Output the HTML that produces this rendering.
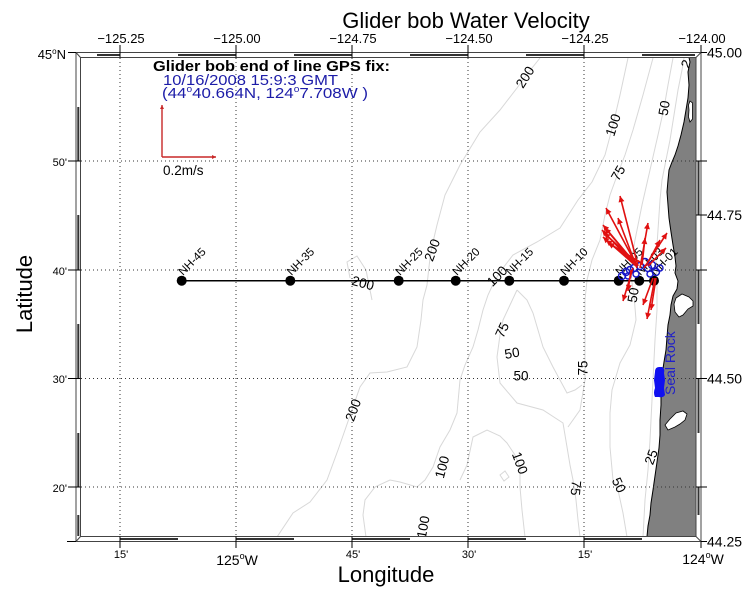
<!DOCTYPE html>
<html>
<head>
<meta charset="utf-8">
<style>
html,body{margin:0;padding:0;background:#fff;}
svg{display:block;}
text{font-family:"Liberation Sans",Arial,sans-serif;}
</style>
</head>
<body>
<svg width="750" height="612" viewBox="0 0 750 612" xmlns="http://www.w3.org/2000/svg">
<defs>
  <clipPath id="map"><rect x="80.5" y="57.5" width="615.5" height="479"/></clipPath>
  <marker id="ah" viewBox="0 0 10 10" refX="10" refY="5" markerWidth="9" markerHeight="6" markerUnits="userSpaceOnUse" orient="auto">
    <path d="M0,0 L10,5 L0,10 z" fill="#e01010"/>
  </marker>
  <marker id="ah2" viewBox="0 0 10 10" refX="10" refY="5" markerWidth="6" markerHeight="4" markerUnits="userSpaceOnUse" orient="auto">
    <path d="M0,0 L10,5 L0,10 z" fill="#c82828"/>
  </marker>
</defs>
<rect width="750" height="612" fill="#fff"/>

<!-- Title -->
<text x="466" y="28" font-size="22" text-anchor="middle" fill="#000">Glider bob Water Velocity</text>

<g clip-path="url(#map)">
  <!-- contour lines -->
  <g fill="none" stroke="#d8d8d8" stroke-width="1">
    <polyline points="540,58 532,68 525,77 517,88 500,110 480,132 460,165 445,195 437,225 433,242 430,258 427,285 423,300 421,320 417,347 407,367 387,372 370,373 360,387 353,407 345,430 338,450 327,480 310,502 293,513 277,537"/>
    <polyline points="350,278 347,262 357,256 366,270 370,290 372,300"/>
    <polyline points="628,58 620,95 613,125 605,155 592,182 578,200 560,228 537,242 513,255 503,268 495,280 488,295 483,310 478,330 473,347 465,365 460,380 457,413 450,430 440,447 433,467 425,480 417,487 400,482 390,480 375,487 365,500 363,515 366,537"/>
    <polyline points="460,480 467,465 473,437 487,430 500,436 507,443 515,455 520,467 520,487 522,510 525,537"/>
    <polygon points="500,475 505,471 509,477 504,481"/>
    <polyline points="653,58 643,95 633,130 625,155 618,173 610,195 605,215 600,240 592,260 587,280 585,300 585,340 585,380 580,410 568,427"/>
    <polyline points="517,290 510,305 503,320 500,335 497,357 500,383 517,403 543,410 563,423 567,447 570,465 573,480 576,500 578,520 580,537"/>
    <polyline points="517,290 527,300 533,313 538,330 543,347 553,367 560,380 567,393 575,390 582,385"/>
    <polyline points="673,58 668,85 664,108 658,135 650,170 642,205 635,240 630,270 634,295 636,320 630,345 620,363 612,390 610,413 610,447 613,480 618,490 623,513 627,537"/>
    <polyline points="684,58 682,70 678,90 674,115 670,140 666,160 662,180 660,200 658,230 656,260 657,280 657,310 655,340 652,400 650,440 648,470 645,500 643,537"/>
  </g>
  <!-- contour labels -->
  <g font-size="13.5" fill="#000" text-anchor="middle">
    <text transform="translate(525,77) rotate(-58)" dy="0.35em">200</text>
    <text transform="translate(613,125) rotate(-72)" dy="0.35em">100</text>
    <text transform="translate(664,108) rotate(-80)" dy="0.35em">50</text>
    <text transform="translate(686,64) rotate(-65)" dy="0.35em">2</text>
    <text transform="translate(618,173) rotate(-60)" dy="0.35em">75</text>
    <text transform="translate(432,250) rotate(-70)" dy="0.35em">200</text>
    <text transform="translate(363,283) rotate(15)" dy="0.35em">200</text>
    <text transform="translate(497,276) rotate(-45)" dy="0.35em">100</text>
    <text transform="translate(502,330) rotate(-65)" dy="0.35em">75</text>
    <text transform="translate(512,353) rotate(-10)" dy="0.35em">50</text>
    <text transform="translate(521,376) rotate(0)" dy="0.35em">50</text>
    <text transform="translate(583,368) rotate(-90)" dy="0.35em">75</text>
    <text transform="translate(353,410) rotate(-70)" dy="0.35em">200</text>
    <text transform="translate(442,467) rotate(-75)" dy="0.35em">100</text>
    <text transform="translate(520,463) rotate(70)" dy="0.35em">100</text>
    <text transform="translate(576,488) rotate(95)" dy="0.35em">75</text>
    <text transform="translate(619,485) rotate(65)" dy="0.35em">50</text>
    <text transform="translate(651,457) rotate(-70)" dy="0.35em">25</text>
    <text transform="translate(423,527) rotate(-80)" dy="0.35em">100</text>
    <text transform="translate(633,295) rotate(-80)" dy="0.35em">50</text>
  </g>

  <!-- land -->
  <path d="M689,57.5 L690,62 L688,72 L689,85 L688,98 L686,110 L684,122 L681,135 L678,146 L675,155 L672,162 L669,170 L668,180 L667,192 L668,205 L669,218 L671,232 L673,245 L675,257 L676,266 L675,273 L678,281 L677,289 L673,296 L671,305 L670,315 L668,325 L667,337 L666,350 L664,362 L662,375 L661,390 L661,405 L660,420 L660,435 L659,448 L657,462 L655,476 L653,490 L651,503 L650,515 L648,526 L647,536.5 L696,536.5 L696,57.5 Z" fill="#808080" stroke="#000" stroke-width="1"/>
  <!-- lakes / bays -->
  <path d="M690,101 L692.5,103 L692.5,119 L690,122 L688.5,117 L689,110 L688.5,105 Z" fill="#fff" stroke="#000" stroke-width="0.8"/>
  <path d="M676,298 L682,294 L689,297 L693,301 L693,306 L688,309 L683,315 L679,317 L675,312 L674,304 Z" fill="#fff" stroke="#000" stroke-width="0.8"/>
  <path d="M665,425 L670,419 L676,413 L683,411 L687,414 L685,420 L680,424 L675,427 L668,430 Z" fill="#fff" stroke="#000" stroke-width="0.8"/>

  <!-- grid -->
  <g stroke="#333" stroke-width="1" stroke-dasharray="1 3" fill="none">
    <line x1="120" y1="58" x2="120" y2="536"/>
    <line x1="236" y1="58" x2="236" y2="536"/>
    <line x1="352" y1="58" x2="352" y2="536"/>
    <line x1="468" y1="58" x2="468" y2="536"/>
    <line x1="584" y1="58" x2="584" y2="536"/>
    <line x1="81" y1="161" x2="696" y2="161"/>
    <line x1="81" y1="270" x2="696" y2="270"/>
    <line x1="81" y1="378.5" x2="696" y2="378.5"/>
    <line x1="81" y1="487" x2="696" y2="487"/>
  </g>

  <!-- Seal Rock -->
  <path d="M655,372 Q655,367 659,367 L662,367 Q665,368 664,373 L665,380 L664,388 L665,395 Q663,398 659,397 L655,397 Q653,393 655,388 L654,380 Z" fill="#1010f0"/>
  <text transform="translate(675,395) rotate(-90)" font-size="14" fill="#2020c8">Seal Rock</text>

  <!-- station line -->
  <line x1="181.7" y1="280.7" x2="654" y2="280.7" stroke="#000" stroke-width="1.5"/>
  <g fill="#000">
    <circle cx="181.7" cy="280.7" r="5"/>
    <circle cx="290.3" cy="280.7" r="5"/>
    <circle cx="398.7" cy="280.7" r="5"/>
    <circle cx="455.7" cy="280.7" r="5"/>
    <circle cx="509.3" cy="280.7" r="5"/>
    <circle cx="564" cy="280.7" r="5"/>
    <circle cx="618.7" cy="280.7" r="5"/>
    <circle cx="639.3" cy="280.7" r="5"/>
    <circle cx="654" cy="280.7" r="5"/>
  </g>
  <g font-size="11.5" fill="#000">
    <text transform="translate(183,276) rotate(-45)">NH-45</text>
    <text transform="translate(291.5,276) rotate(-45)">NH-35</text>
    <text transform="translate(400,276) rotate(-45)">NH-25</text>
    <text transform="translate(457,276) rotate(-45)">NH-20</text>
    <text transform="translate(510.5,276) rotate(-45)">NH-15</text>
    <text transform="translate(565,276) rotate(-45)">NH-10</text>
    <text transform="translate(620,276) rotate(-45)">NH-05</text>
    <text transform="translate(640.5,276) rotate(-45)">NH-03</text>
    <text transform="translate(655,276) rotate(-45)">NH-01</text>
  </g>

  <!-- glider track markers -->
  <g fill="none" stroke="#1515c8" stroke-width="1.4">
    <circle cx="622" cy="276" r="3.5"/>
    <circle cx="626" cy="272" r="3.5"/>
    <circle cx="630" cy="270" r="3.5"/>
    <circle cx="634" cy="268" r="3.5"/>
    <circle cx="628" cy="276" r="3"/>
    <circle cx="640" cy="266" r="3.5"/>
    <circle cx="645" cy="262" r="3.5"/>
    <circle cx="648" cy="268" r="3.5"/>
    <circle cx="652" cy="265" r="3.5"/>
    <circle cx="656" cy="272" r="3.5"/>
    <circle cx="650" cy="274" r="3"/>
    <circle cx="660" cy="268" r="3"/>
    <circle cx="636" cy="274" r="3"/>
  </g>

  <!-- velocity arrows -->
  <g stroke="#e01010" stroke-width="1.6" fill="none" marker-end="url(#ah)">
    <line x1="638" y1="266" x2="620" y2="196"/>
    <line x1="636" y1="264" x2="606" y2="208"/>
    <line x1="634" y1="262" x2="603" y2="225"/>
    <line x1="634" y1="264" x2="602" y2="230"/>
    <line x1="636" y1="262" x2="604" y2="233"/>
    <line x1="636" y1="266" x2="603" y2="237"/>
    <line x1="638" y1="265" x2="606" y2="240"/>
    <line x1="640" y1="262" x2="608" y2="243"/>
    <line x1="632" y1="260" x2="605" y2="228"/>
    <line x1="637" y1="268" x2="618" y2="218"/>
    <line x1="640" y1="268" x2="648" y2="223"/>
    <line x1="642" y1="265" x2="645" y2="238"/>
    <line x1="644" y1="268" x2="667" y2="233"/>
    <line x1="646" y1="266" x2="660" y2="240"/>
    <line x1="648" y1="266" x2="666" y2="248"/>
    <line x1="633" y1="268" x2="623" y2="301"/>
    <line x1="655" y1="278" x2="647" y2="319"/>
    <line x1="656" y1="278" x2="651" y2="310"/>
    <line x1="653" y1="278" x2="643" y2="305"/>
    <line x1="631" y1="270" x2="628" y2="291"/>
  </g>
</g>

<!-- frame -->
<g stroke="#444" stroke-width="1" fill="none">
  <rect x="76" y="52.5" width="625" height="489"/>
  <rect x="80.5" y="57.5" width="615.5" height="479"/>
  <line x1="76" y1="52.5" x2="80.5" y2="57.5"/>
  <line x1="701" y1="52.5" x2="696" y2="57.5"/>
  <line x1="76" y1="541.5" x2="80.5" y2="536.5"/>
  <line x1="701" y1="541.5" x2="696" y2="536.5"/>
</g>
<g stroke="#333" stroke-width="2" fill="none">
  <line x1="97" y1="55" x2="120" y2="55"/>
  <line x1="178" y1="55" x2="236" y2="55"/>
  <line x1="294" y1="55" x2="352" y2="55"/>
  <line x1="410" y1="55" x2="468" y2="55"/>
  <line x1="526" y1="55" x2="584" y2="55"/>
  <line x1="642" y1="55" x2="695" y2="55"/>
  <line x1="120" y1="539" x2="178" y2="539"/>
  <line x1="236" y1="539" x2="294" y2="539"/>
  <line x1="352" y1="539" x2="410" y2="539"/>
  <line x1="468" y1="539" x2="526" y2="539"/>
  <line x1="584" y1="539" x2="642" y2="539"/>
  <line x1="78.3" y1="107" x2="78.3" y2="161"/>
  <line x1="78.3" y1="215" x2="78.3" y2="270"/>
  <line x1="78.3" y1="324" x2="78.3" y2="378"/>
  <line x1="78.3" y1="433" x2="78.3" y2="487"/>
  <line x1="78.3" y1="515" x2="78.3" y2="536"/>
  <line x1="698.5" y1="161" x2="698.5" y2="215"/>
  <line x1="698.5" y1="270" x2="698.5" y2="324"/>
  <line x1="698.5" y1="378" x2="698.5" y2="433"/>
  <line x1="698.5" y1="487" x2="698.5" y2="515"/>
</g>
<!-- ticks -->
<g stroke="#000" stroke-width="1">
  <line x1="120" y1="45" x2="120" y2="57.5"/>
  <line x1="236" y1="45" x2="236" y2="57.5"/>
  <line x1="352" y1="45" x2="352" y2="57.5"/>
  <line x1="468" y1="45" x2="468" y2="57.5"/>
  <line x1="584" y1="45" x2="584" y2="57.5"/>
  <line x1="701" y1="45" x2="701" y2="52.5"/>
  <line x1="120" y1="536.5" x2="120" y2="548"/>
  <line x1="236" y1="536.5" x2="236" y2="548"/>
  <line x1="352" y1="536.5" x2="352" y2="548"/>
  <line x1="468" y1="536.5" x2="468" y2="548"/>
  <line x1="584" y1="536.5" x2="584" y2="548"/>
  <line x1="701" y1="541.5" x2="701" y2="548"/>
  <line x1="68" y1="52.5" x2="76" y2="52.5"/>
  <line x1="68" y1="161" x2="80.5" y2="161"/>
  <line x1="68" y1="270" x2="80.5" y2="270"/>
  <line x1="68" y1="378.5" x2="80.5" y2="378.5"/>
  <line x1="68" y1="487" x2="80.5" y2="487"/>
  <line x1="67" y1="541.5" x2="76" y2="541.5"/>
  <line x1="701" y1="52.5" x2="707" y2="52.5"/>
  <line x1="696" y1="161" x2="707" y2="161"/>
  <line x1="696" y1="215" x2="707" y2="215"/>
  <line x1="696" y1="270" x2="707" y2="270"/>
  <line x1="696" y1="378.5" x2="707" y2="378.5"/>
  <line x1="696" y1="487" x2="707" y2="487"/>
  <line x1="701" y1="541.5" x2="707" y2="541.5"/>
</g>

<!-- top tick labels -->
<g font-size="13" fill="#000" text-anchor="middle">
  <text x="121" y="43">−125.25</text>
  <text x="237" y="43">−125.00</text>
  <text x="353" y="43">−124.75</text>
  <text x="469" y="43">−124.50</text>
  <text x="585" y="43">−124.25</text>
  <text x="702" y="43">−124.00</text>
</g>
<!-- right tick labels -->
<g font-size="14" fill="#000">
  <text x="707" y="57.5">45.00</text>
  <text x="707" y="220">44.75</text>
  <text x="707" y="383.5">44.50</text>
  <text x="707" y="546.5">44.25</text>
</g>
<!-- left tick labels -->
<g fill="#000" text-anchor="end">
  <text x="66" y="59" font-size="13">45<tspan font-size="8" dy="-5">o</tspan><tspan dy="5">N</tspan></text>
  <text x="67" y="166" font-size="11">50'</text>
  <text x="67" y="275" font-size="11">40'</text>
  <text x="67" y="383" font-size="11">30'</text>
  <text x="67" y="492" font-size="11">20'</text>
</g>
<!-- bottom tick labels -->
<g fill="#000" text-anchor="middle">
  <text x="121" y="558" font-size="11">15'</text>
  <text x="237" y="565" font-size="14">125<tspan font-size="9" dy="-6">o</tspan><tspan dy="6">W</tspan></text>
  <text x="353" y="558" font-size="11">45'</text>
  <text x="469" y="558" font-size="11">30'</text>
  <text x="585" y="558" font-size="11">15'</text>
  <text x="703" y="564" font-size="14">124<tspan font-size="9" dy="-6">o</tspan><tspan dy="6">W</tspan></text>
</g>

<!-- axis titles -->
<text x="386" y="582" font-size="22" text-anchor="middle" fill="#000">Longitude</text>
<text transform="translate(32,294) rotate(-90)" font-size="22" text-anchor="middle" fill="#000">Latitude</text>

<!-- legend -->
<text x="153" y="71" font-size="14.5" font-weight="bold" fill="#000" textLength="237" lengthAdjust="spacingAndGlyphs">Glider bob end of line GPS fix:</text>
<text x="163" y="85" font-size="14.5" fill="#1c1ca8" textLength="175" lengthAdjust="spacingAndGlyphs">10/16/2008 15:9:3 GMT</text>
<text x="162" y="98" font-size="15" fill="#1c1ca8" textLength="206" lengthAdjust="spacingAndGlyphs">(44<tspan font-size="9" dy="-6">o</tspan><tspan dy="6">40.664N, 124</tspan><tspan font-size="9" dy="-6">o</tspan><tspan dy="6">7.708W )</tspan></text>

<!-- scale arrows -->
<g stroke="#c82828" stroke-width="1.4" fill="none">
  <line x1="162" y1="157" x2="162" y2="105" marker-end="url(#ah2)"/>
  <line x1="162" y1="157" x2="216" y2="157" marker-end="url(#ah2)"/>
</g>
<text x="163" y="175" font-size="13.5" fill="#000">0.2m/s</text>
</svg>
</body>
</html>
